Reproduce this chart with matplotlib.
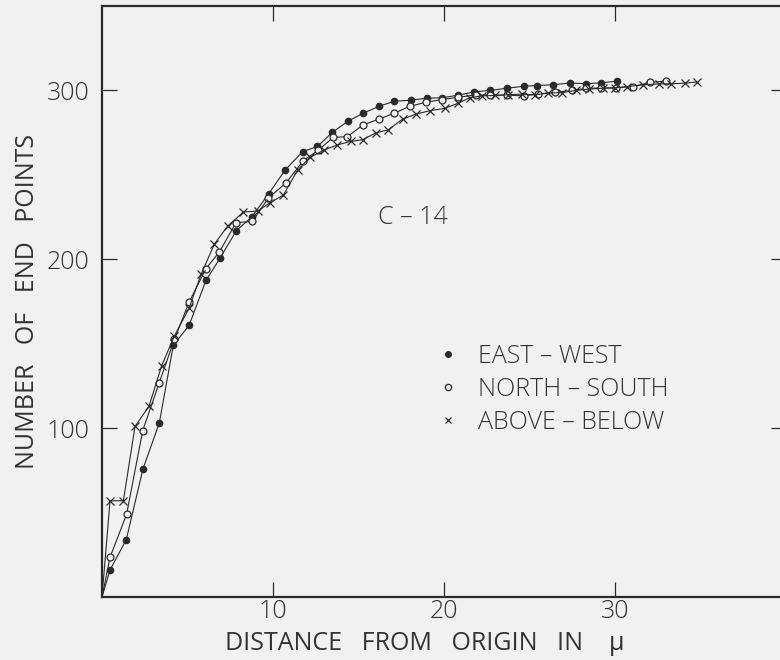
import matplotlib
matplotlib.use("Agg")
import matplotlib.pyplot as plt
from matplotlib.lines import Line2D

# distance from origin (micron) and cumulative number of end points
ew_x = [0, 0.47, 1.42, 2.4, 3.35, 4.17, 5.1, 6.08, 6.9, 7.86, 8.75, 9.75, 10.72,
        11.73, 12.6, 13.47, 14.4, 15.28, 16.2, 17.1, 18.05, 18.99, 19.9, 20.84,
        21.77, 22.7, 23.67, 24.7, 25.45, 26.4, 27.37, 28.3, 29.2, 30.1]
ew_y = [0, 16, 34, 76, 103, 149, 161, 187.5, 200.6, 217, 225, 238.8, 253,
        263.7, 266.8, 275.2, 281.9, 286.5, 290.6, 293.6, 294.2, 295.4, 295.7, 297.2,
        299.2, 300, 301.3, 302.5, 302.9, 303.4, 304.4, 304, 304.5, 305.5]

ns_x = [0, 0.47, 1.44, 2.38, 3.35, 4.23, 5.1, 6.08, 6.86, 7.84, 8.8, 9.73, 10.74,
        11.77, 12.65, 13.53, 14.35, 15.28, 16.2, 17.1, 18.0, 18.95, 19.9, 20.84,
        21.85, 22.7, 23.67, 24.68, 25.5, 26.5, 27.5, 28.3, 29.2, 30.05, 31.07,
        32.05, 33.0]
ns_y = [0, 23.5, 49, 98.5, 127, 152.5, 174.7, 194.5, 204.3, 221.7, 222.4, 236.3, 245,
        258.3, 264.7, 272.2, 272.6, 279.7, 283, 286.6, 290.6, 293, 294.6, 296,
        297.3, 297.3, 297.2, 296.8, 298, 298.8, 300, 301.2, 301.5, 301.5, 302.3,
        304.7, 305.6]

ab_x = [0, 0.47, 1.25, 1.93, 2.75, 3.49, 4.23, 5.09, 5.79, 6.57, 7.35, 8.27, 9.1,
        9.84, 10.6, 11.44, 12.16, 12.98, 13.76, 14.54, 15.24, 16.0, 16.74, 17.58,
        18.36, 19.18, 20.06, 20.8, 21.5, 22.2, 23.0, 23.75, 24.55, 25.3, 26.1,
        26.9, 27.7, 28.5, 29.3, 30.0, 30.7, 31.65, 32.6, 33.3, 34.1, 34.8]
ab_y = [0, 57, 57, 101, 113, 137, 154.5, 171, 191, 209, 219.7, 228, 228.6,
        233.6, 238, 252.8, 260.3, 264.7, 267.7, 269.8, 270.8, 274.8, 276.7, 283,
        286, 288, 289.4, 292.3, 295.6, 296.8, 297, 297.5, 297.8, 297.3, 298.5,
        298.7, 300, 300.8, 301.3, 301.5, 302.3, 303.3, 303.9, 303.9, 304.3, 305]

labels = ["EAST \u2013 WEST", "NORTH \u2013 SOUTH", "ABOVE \u2013 BELOW"]

bg = "#f1f1f1"
ink = "#2a2a2a"
txt = "#333333"
plt.rcParams["font.family"] = ["Open Sans", "DejaVu Sans"]
plt.rcParams["font.weight"] = "light"

fig = plt.figure(figsize=(7.8, 6.6), dpi=100, facecolor=bg)
ax = fig.add_axes([102 / 780, 63 / 660, 684 / 780, 591 / 660])
ax.set_facecolor(bg)

lw = 0.8
skip = slice(1, None)
ax.plot(ew_x, ew_y, color=ink, lw=lw, marker="o", ms=4.5, mfc=ink, mec=ink,
        markevery=skip)
ax.plot(ns_x, ns_y, color=ink, lw=lw, marker="o", ms=5, mfc=bg, mec=ink,
        mew=0.9, markevery=skip)
ax.plot(ab_x, ab_y, color=ink, lw=lw, marker="x", ms=6, mec=ink,
        mew=0.9, markevery=skip)

ax.set_xlim(0, 40)
ax.set_ylim(0, 350)
ax.set_xticks([10, 20, 30])
ax.set_yticks([100, 200, 300])
ax.tick_params(direction="in", length=11, width=0.9, color=ink,
               top=True, right=True, labelsize=18, labelcolor=txt)
ax.tick_params(axis="y", pad=9)
ax.tick_params(axis="x", pad=1.5)
for s in ax.spines.values():
    s.set_linewidth(1.6)
    s.set_color(ink)

ax.set_xlabel("DISTANCE   FROM   ORIGIN   IN    \u03bc", fontsize=18, color=txt)
ax.xaxis.set_label_coords(0.472, -0.058)
ax.set_ylabel("NUMBER   OF   END   POINTS", fontsize=18, color=txt)
ax.yaxis.set_label_coords(-0.09, 0.5)

ax.text(18.2, 225, "C \u2013 14", fontsize=18, color=txt,
        ha="center", va="center")

handles = [
    Line2D([], [], ls="none", marker="o", ms=4, mfc=ink, mec=ink),
    Line2D([], [], ls="none", marker="o", ms=4.5, mfc=bg, mec=ink, mew=0.9),
    Line2D([], [], ls="none", marker="x", ms=5, mec=ink, mew=0.9),
]
ax.legend(handles, labels, loc="upper left", bbox_to_anchor=(0.47, 0.45),
          frameon=False, fontsize=18, handlelength=1, handletextpad=0.7,
          labelspacing=0.32, borderpad=0, labelcolor=txt)

fig.savefig("out.png", dpi=100, facecolor=bg)
